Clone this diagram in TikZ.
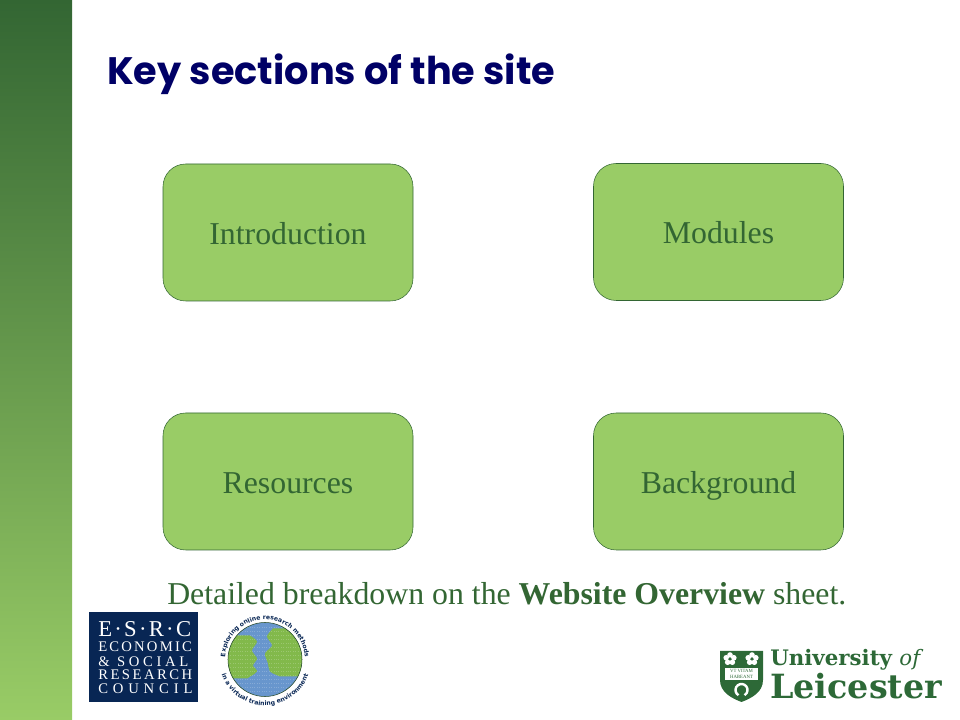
\documentclass[tikz,border=0pt]{standalone}
\usepackage{fontspec}
\usepackage{xcolor}
\setmainfont{Liberation Serif}
\newfontfamily\titlefont{Poppins}
\newfontfamily\logofont{DejaVu Serif}
\newfontfamily\globefont{DejaVu Sans}
\usetikzlibrary{positioning,decorations.text}
\definecolor{sitegreen}{RGB}{153,204,102}
\definecolor{darkgreen}{RGB}{51,102,51}
\definecolor{titlenavy}{RGB}{0,0,102}
\definecolor{esrcnavy}{RGB}{8,38,84}
\definecolor{globeblue}{RGB}{104,150,205}
\definecolor{globegreen}{RGB}{130,185,75}
\definecolor{leicestergreen}{RGB}{45,105,55}

\begin{document}
\begin{tikzpicture}[x=0.75pt,y=0.75pt,
    sectionbox/.style={draw=darkgreen,fill=sitegreen,rounded corners=17pt,minimum width=187.5pt,minimum height=102.75pt,text=darkgreen,text height=21pt,text depth=3.2pt,font=\fontsize{23.85}{27}\selectfont},
    esrcline/.style={anchor=base west,inner sep=0pt,text=white,font=\fontsize{11}{12}\selectfont}]
    \useasboundingbox (0,0) rectangle (960,720);

    % Side band
    \shade[top color=darkgreen,bottom color=sitegreen] (0,0) rectangle (72,720);

    % Title
    \node[anchor=base west,inner sep=0pt,text=titlenavy] (title) at (107,635) {\titlefont\bfseries\fontsize{28.7}{34}\selectfont Key sections of the site};

    % Section boxes
    \node[sectionbox] (intro) at (288,487.5) {Introduction};
    \node[sectionbox] (modules) at (718.5,488) {Modules};
    \node[sectionbox] (resources) at (288,238.5) {Resources};
    \node[sectionbox] (background) at (718.5,238.5) {Background};

    % Note under the boxes
    \node[anchor=base west,inner sep=0pt,text=darkgreen] (note) at (167,115) {\fontsize{23.85}{27}\selectfont Detailed breakdown on the \textbf{Website Overview} sheet.};

    % ESRC logo
    \fill[esrcnavy] (89,18) rectangle (198,108);
    \node[esrcline,font=\fontsize{17}{19}\selectfont] (esrc) at (98,83) {\addfontfeature{LetterSpace=10}E·S·R·C};
    \node[esrcline] (economic) at (98,68) {\addfontfeature{LetterSpace=15}ECONOMIC};
    \node[esrcline] (social) at (98,53) {\addfontfeature{LetterSpace=25}\& SOCIAL};
    \node[esrcline] (research) at (98,40) {\addfontfeature{LetterSpace=17}RESEARCH};
    \node[esrcline] (council) at (98,26) {\addfontfeature{LetterSpace=33}COUNCIL};

    % Globe logo
    \begin{scope}[shift={(265,60.5)}]
        \fill[globeblue] (0,0) circle (37);
        \begin{scope}
            \clip (0,0) circle (37);
            \fill[globegreen] plot[smooth] coordinates {(-15,24) (-8,18) (-13,9) (-8,1) (-12,-6) (-8,-12) (-18,-19)} -- (-40,-19) -- (-40,24) -- cycle;
            \fill[globegreen] plot[smooth] coordinates {(8,31) (2,23) (7,14) (0,6) (3,-4) (5,-12) (15,-17)} -- (40,-17) -- (40,31) -- cycle;
            \foreach \rowy in {-32,-28,...,32} {
                \draw[white,opacity=0.2,line width=0.8pt,densely dotted] (-37,\rowy) -- (37,\rowy);
            }
        \end{scope}
        \draw[darkgreen!70!black,thin] (0,0) circle (37);
        \path[postaction={decorate},decoration={text along path,text align=center,text color=esrcnavy,
            text={|\globefont\bfseries\fontsize{4.6}{6}\selectfont|Exploring online research methods}}]
            (190:40) arc[start angle=190,end angle=-10,radius=40];
        \path[postaction={decorate},decoration={text along path,text align=center,text color=esrcnavy,
            text={|\globefont\bfseries\fontsize{4.6}{6}\selectfont|in a virtual training environment}}]
            (195:46) arc[start angle=195,end angle=345,radius=46];
    \end{scope}

    % Leicester logo
    \fill[leicestergreen] (720,69) -- (763,69) -- (763,40) .. controls (763,28) and (752,22) .. (741.5,18) .. controls (731,22) and (720,28) .. (720,40) -- cycle;
    \foreach \rosex in {730,752} {
        \foreach \petal in {18,90,162,234,306} {
            \fill[white] (\rosex,61) ++(\petal:4) circle (2.8);
        }
        \fill[leicestergreen] (\rosex,61) circle (1.6);
    }
    \fill[white] (725,40) rectangle (758,52);
    \node[inner sep=0pt,text=leicestergreen,align=center,font=\fontsize{3.6}{4.2}\selectfont] (motto) at (741.5,46) {VT VITAM\\HABEANT};
    \draw[white,line width=1.8pt] (738.5,24.8) arc[start angle=240,end angle=-60,radius=6];
    \node[anchor=base west,inner sep=0pt,text=leicestergreen] (university) at (770,54) {\logofont\bfseries\fontsize{16}{20}\selectfont University \textit{\mdseries of}};
    \node[anchor=base west,inner sep=0pt,text=leicestergreen] (leicester) at (770,21) {\logofont\bfseries\fontsize{25}{28}\selectfont Leicester};
\end{tikzpicture}
\end{document}
